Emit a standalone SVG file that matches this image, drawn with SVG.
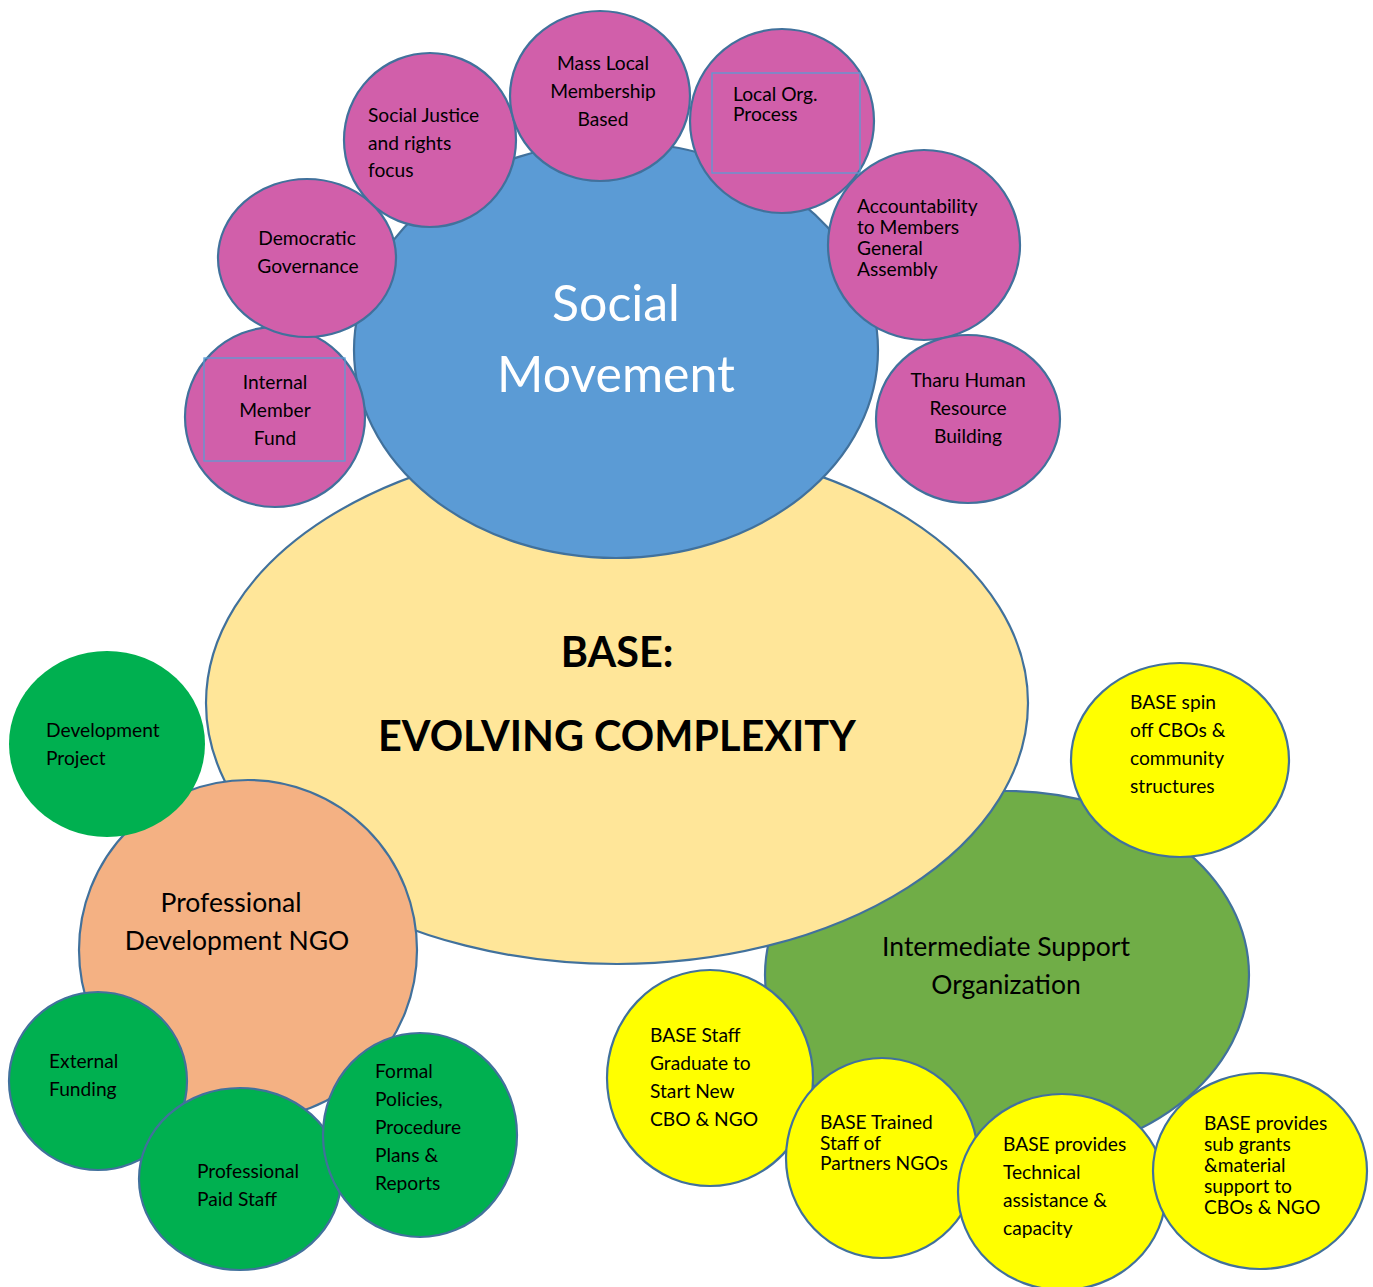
<svg xmlns="http://www.w3.org/2000/svg" width="1373" height="1287" viewBox="0 0 1373 1287">
<style>
.s{stroke:#41719C;stroke-width:2.2}
.pk{fill:#D15FAA}
.sg{fill:#00B050}
.yl{fill:#FFFF00}
.t{font-family:Lato,"Liberation Sans",sans-serif;font-size:19.2px;fill:#000}
.c{text-anchor:middle}
.box{fill:none;stroke:#5B9BD5;stroke-width:1.3}
.big{font-family:Lato,"Liberation Sans",sans-serif;font-size:26.5px;fill:#000;text-anchor:middle}
</style>
<rect width="1373" height="1287" fill="#fff"/>
<g id="connectors"></g>

<g id="iso">
<ellipse class="s" cx="1007" cy="975" rx="242" ry="184" fill="#70AD47"/>
<text class="big" x="1006" y="956">Intermediate Support</text>
<text class="big" x="1006" y="994">Organization</text>
</g>

<g id="base">
<ellipse class="s" cx="617" cy="703" rx="411" ry="261" fill="#FFE699"/>
<text x="617" y="667" font-family="Lato,'Liberation Sans',sans-serif" font-weight="bold" font-size="41.4" text-anchor="middle">BASE:</text>
<text x="617" y="751" font-family="Lato,'Liberation Sans',sans-serif" font-weight="bold" font-size="41.4" text-anchor="middle">EVOLVING COMPLEXITY</text>
</g>

<g id="social-movement">
<ellipse class="s" cx="616" cy="350" rx="262" ry="208" fill="#5B9BD5"/>
<text x="616" y="321" font-family="Lato,'Liberation Sans',sans-serif" font-size="50" fill="#fff" text-anchor="middle">Social</text>
<text x="616" y="392" font-family="Lato,'Liberation Sans',sans-serif" font-size="50" fill="#fff" text-anchor="middle">Movement</text>
</g>

<g id="internal-member-fund">
<ellipse class="s pk" cx="275" cy="417" rx="90" ry="90"/>
<rect class="box" x="204" y="358" width="141" height="103"/>
<text class="t c" x="275" y="389">Internal</text>
<text class="t c" x="275" y="417">Member</text>
<text class="t c" x="275" y="445">Fund</text>
</g>

<g id="democratic-governance">
<ellipse class="s pk" cx="307" cy="258" rx="89" ry="79"/>
<text class="t c" x="307" y="245">Democratic</text>
<text class="t c" x="308" y="273">Governance</text>
</g>

<g id="social-justice">
<ellipse class="s pk" cx="430" cy="140" rx="86" ry="87"/>
<text class="t" x="368" y="122">Social Justice</text>
<text class="t" x="368" y="150">and rights</text>
<text class="t" x="368" y="177">focus</text>
</g>

<g id="mass-local">
<ellipse class="s pk" cx="600" cy="96" rx="90" ry="85"/>
<text class="t c" x="603" y="70">Mass Local</text>
<text class="t c" x="603" y="98">Membership</text>
<text class="t c" x="603" y="126">Based</text>
</g>

<g id="local-org">
<ellipse class="s pk" cx="782" cy="121" rx="92" ry="92"/>
<rect class="box" x="712" y="73" width="148" height="100"/>
<text class="t" x="733" y="101">Local Org.</text>
<text class="t" x="733" y="121">Process</text>
</g>

<g id="accountability">
<ellipse class="s pk" cx="924" cy="245" rx="96" ry="95"/>
<text class="t" x="857" y="213">Accountability</text>
<text class="t" x="857" y="234">to Members</text>
<text class="t" x="857" y="255">General</text>
<text class="t" x="857" y="276">Assembly</text>
</g>

<g id="tharu">
<ellipse class="s pk" cx="968" cy="419" rx="92" ry="84"/>
<text class="t c" x="968" y="387">Tharu Human</text>
<text class="t c" x="968" y="415">Resource</text>
<text class="t c" x="968" y="443">Building</text>
</g>

<g id="professional-ngo">
<ellipse class="s" cx="248" cy="950" rx="169" ry="170" fill="#F4B183"/>
<text class="big" x="231" y="912">Professional</text>
<text class="big" x="237" y="950">Development NGO</text>
</g>

<g id="development-project">
<ellipse class="sg" cx="107" cy="744" rx="98" ry="93"/>
<text class="t" x="46" y="737">Development</text>
<text class="t" x="46" y="765">Project</text>
</g>

<g id="external-funding">
<ellipse class="s sg" cx="98" cy="1081" rx="89" ry="89"/>
<text class="t" x="49" y="1068">External</text>
<text class="t" x="49" y="1096">Funding</text>
</g>

<g id="professional-paid-staff">
<ellipse class="s sg" cx="240" cy="1179" rx="101" ry="91"/>
<text class="t" x="197" y="1178">Professional</text>
<text class="t" x="197" y="1206">Paid Staff</text>
</g>

<g id="formal-policies">
<ellipse class="s sg" cx="420" cy="1135" rx="97" ry="102"/>
<text class="t" x="375" y="1078">Formal</text>
<text class="t" x="375" y="1106">Policies,</text>
<text class="t" x="375" y="1134">Procedure</text>
<text class="t" x="375" y="1162">Plans &amp;</text>
<text class="t" x="375" y="1190">Reports</text>
</g>

<g id="spin-off">
<ellipse class="s yl" cx="1180" cy="760" rx="109" ry="97"/>
<text class="t" x="1130" y="709">BASE spin</text>
<text class="t" x="1130" y="737">off CBOs &amp;</text>
<text class="t" x="1130" y="765">community</text>
<text class="t" x="1130" y="793">structures</text>
</g>

<g id="staff-graduate">
<ellipse class="s yl" cx="710" cy="1078" rx="103" ry="108"/>
<text class="t" x="650" y="1042">BASE Staff</text>
<text class="t" x="650" y="1070">Graduate to</text>
<text class="t" x="650" y="1098">Start New</text>
<text class="t" x="650" y="1126">CBO &amp; NGO</text>
</g>

<g id="trained-staff">
<ellipse class="s yl" cx="882" cy="1158" rx="96" ry="100"/>
<text class="t" x="820" y="1129">BASE Trained</text>
<text class="t" x="820" y="1150">Staff of</text>
<text class="t" x="820" y="1170">Partners NGOs</text>
</g>

<g id="technical-assistance">
<ellipse class="s yl" cx="1062" cy="1192" rx="104" ry="98"/>
<text class="t" x="1003" y="1151">BASE provides</text>
<text class="t" x="1003" y="1179">Technical</text>
<text class="t" x="1003" y="1207">assistance &amp;</text>
<text class="t" x="1003" y="1235">capacity</text>
</g>

<g id="sub-grants">
<ellipse class="s yl" cx="1260" cy="1171" rx="107" ry="98"/>
<text class="t" x="1204" y="1130">BASE provides</text>
<text class="t" x="1204" y="1151">sub grants</text>
<text class="t" x="1204" y="1172">&amp;material</text>
<text class="t" x="1204" y="1193">support to</text>
<text class="t" x="1204" y="1214">CBOs &amp; NGO</text>
</g>
</svg>
